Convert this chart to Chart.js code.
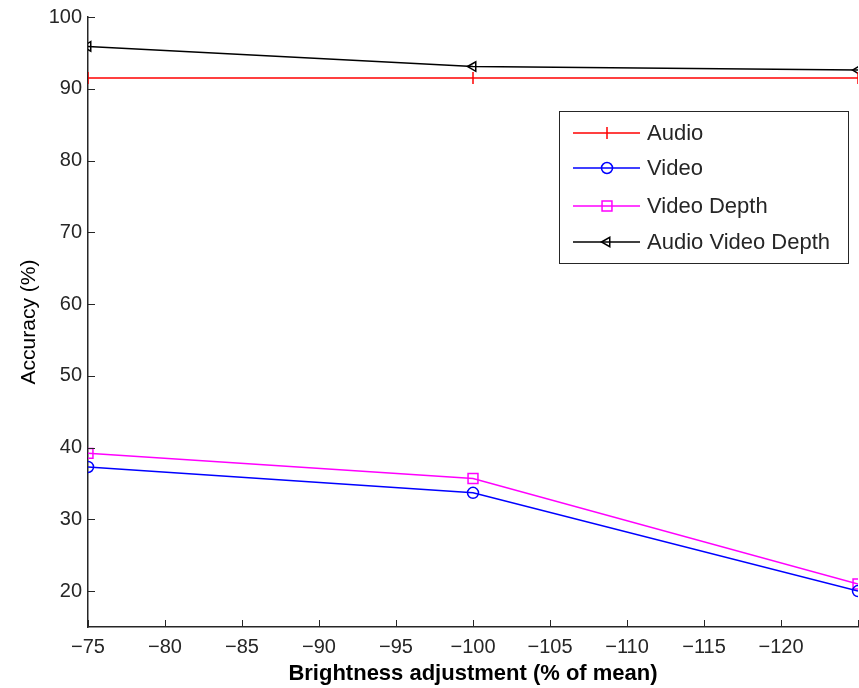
<!DOCTYPE html>
<html lang="en">
<head>
    <meta charset="UTF-8">
    <title>Accuracy vs brightness</title>
    <script src="https://cdn.jsdelivr.net/npm/chart.js@4.4.0/dist/chart.umd.min.js"></script>
    <style>
        * { margin: 0; padding: 0; box-sizing: border-box; }
        body { background: #fff; width: 859px; height: 688px; overflow: hidden; }
        #wrap { position: relative; width: 859px; height: 688px; }
    </style>
</head>
<body>
    <div id="wrap"><canvas id="chart"></canvas></div>

    <script>
        // data
        const brightness = [-75, -100, -125];
        const audio = [91.5, 91.5, 91.5];
        const video = [37.3, 33.7, 20.0];
        const videoDepth = [39.2, 35.7, 21.0];
        const audioVideoDepth = [95.9, 93.1, 92.6];

        const xTicks = [-75, -80, -85, -90, -95, -100, -105, -110, -115, -120, -125];
        const yTicks = [20, 30, 40, 50, 60, 70, 80, 90, 100];

        const FONT = "'Liberation Sans', Arial, sans-serif";
        const minus = v => (v < 0 ? '\u2212' + Math.abs(v) : String(v));
        const pts = ys => brightness.map((x, i) => ({ x: x, y: ys[i] }));

        // MATLAB style inward tick marks
        const inwardTicks = {
            id: 'inwardTicks',
            afterDatasetsDraw(chart) {
                const ctx = chart.ctx, a = chart.chartArea;
                const xs = chart.scales.x, ys = chart.scales.y;
                ctx.save();
                ctx.strokeStyle = '#262626';
                ctx.lineWidth = 1;
                ctx.beginPath();
                xs.ticks.forEach(t => {
                    const px = Math.round(xs.getPixelForValue(t.value)) + 0.5;
                    ctx.moveTo(px, a.bottom);
                    ctx.lineTo(px, a.bottom - 7);
                });
                ys.ticks.forEach(t => {
                    const py = Math.round(ys.getPixelForValue(t.value)) + 0.5;
                    ctx.moveTo(a.left, py);
                    ctx.lineTo(a.left + 7, py);
                });
                ctx.stroke();
                ctx.restore();
            }
        };

        // boxed legend inside the plot, like the original
        const boxLegend = {
            id: 'boxLegend',
            afterDraw(chart) {
                const ctx = chart.ctx, a = chart.chartArea;
                const left = a.right - 299, top = a.top + 94, w = 289, h = 152;
                const rows = [22, 57, 95, 131];
                ctx.save();
                ctx.fillStyle = '#fff';
                ctx.fillRect(left, top, w, h);
                ctx.strokeStyle = '#262626';
                ctx.lineWidth = 1;
                ctx.strokeRect(left + 0.5, top + 0.5, w, h);
                ctx.font = '22px ' + FONT;
                ctx.textBaseline = 'middle';
                chart.data.datasets.forEach((ds, i) => {
                    const y = top + rows[i];
                    ctx.strokeStyle = ds.borderColor;
                    ctx.lineWidth = 1.5;
                    ctx.beginPath();
                    ctx.moveTo(left + 14, y);
                    ctx.lineTo(left + 81, y);
                    ctx.stroke();
                    ctx.fillStyle = 'rgba(0,0,0,0)';
                    Chart.helpers.drawPoint(ctx, {
                        pointStyle: ds.pointStyle,
                        radius: ds.pointRadius,
                        rotation: ds.pointRotation || 0,
                        borderWidth: 1.5
                    }, left + 48, y);
                    ctx.fillStyle = '#262626';
                    ctx.fillText(ds.label, left + 88, y + 1);
                });
                ctx.restore();
            }
        };

        const series = (label, data, color, style, radius, rot) => ({
            label: label,
            data: pts(data),
            borderColor: color,
            backgroundColor: 'rgba(0,0,0,0)',
            pointBorderColor: color,
            pointBackgroundColor: 'rgba(0,0,0,0)',
            borderWidth: 1.5,
            pointStyle: style,
            pointRotation: rot || 0,
            pointRadius: radius,
            pointBorderWidth: 1.5,
            tension: 0
        });

        new Chart(document.getElementById('chart'), {
            type: 'line',
            data: {
                datasets: [
                    series('Audio', audio, '#ff0000', 'line', 6, 90),
                    series('Video', video, '#0000ff', 'circle', 5.5),
                    series('Video Depth', videoDepth, '#ff00ff', 'rect', 7),
                    series('Audio Video Depth', audioVideoDepth, '#000000', 'triangle', 5.5, -90)
                ]
            },
            options: {
                responsive: true,
                maintainAspectRatio: false,
                animation: false,
                layout: { autoPadding: false, padding: { top: 17, right: 1, left: 0, bottom: 0 } },
                plugins: { legend: { display: false }, tooltip: { enabled: false } },
                scales: {
                    x: {
                        type: 'linear',
                        reverse: true,
                        min: -125,
                        max: -75,
                        afterBuildTicks: s => { s.ticks = xTicks.map(v => ({ value: v })); },
                        afterFit: s => { s.height = 61; s.paddingLeft = 0; s.paddingRight = 0; },
                        ticks: {
                            color: '#262626',
                            font: { family: FONT, size: 20 },
                            padding: 8,
                            maxRotation: 0,
                            callback: v => (v === -125 ? '' : minus(v))
                        },
                        grid: { drawOnChartArea: false, drawTicks: false },
                        border: { display: true, color: '#262626', width: 1.5 },
                        title: {
                            display: true,
                            text: 'Brightness adjustment (% of mean)',
                            color: '#000',
                            font: { family: FONT, size: 22, weight: 'bold' },
                            padding: { top: 0, bottom: 1 }
                        }
                    },
                    y: {
                        min: 15,
                        max: 100,
                        afterBuildTicks: s => { s.ticks = yTicks.map(v => ({ value: v })); },
                        afterFit: s => { s.width = 88; s.paddingTop = 0; s.paddingBottom = 0; },
                        ticks: {
                            color: '#262626',
                            font: { family: FONT, size: 20 },
                            padding: 6
                        },
                        grid: { drawOnChartArea: false, drawTicks: false },
                        border: { display: true, color: '#262626', width: 1.5 },
                        title: {
                            display: true,
                            text: 'Accuracy (%)',
                            color: '#000',
                            font: { family: FONT, size: 21 },
                            padding: { top: 17, bottom: 0 }
                        }
                    }
                }
            },
            plugins: [inwardTicks, boxLegend]
        });
    </script>
</body>
</html>
